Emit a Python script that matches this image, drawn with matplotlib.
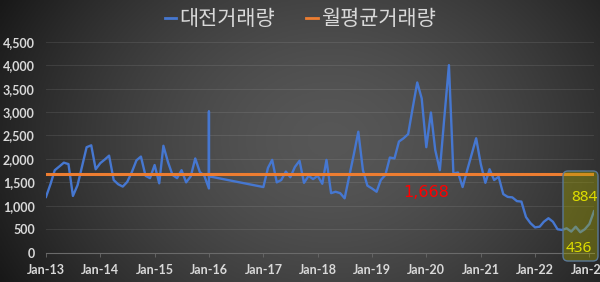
import numpy as np
import pandas as pd
import matplotlib
matplotlib.use('Agg')
import matplotlib.pyplot as plt
import matplotlib.dates as mdates
from matplotlib.lines import Line2D
from matplotlib.patches import FancyBboxPatch
from matplotlib.transforms import IdentityTransform

plt.rcParams['font.family'] = ['Noto Sans CJK KR', 'DejaVu Sans']

# ---- data ----
dates_2013_2015 = pd.date_range('2013-01-01', '2015-12-01', freq='MS')
dates_2016 = pd.to_datetime(['2016-01-01', '2016-01-01', '2016-01-01'])
dates_2017_2023 = pd.date_range('2017-01-01', '2023-02-01', freq='MS')
dates = dates_2013_2015.append(dates_2016).append(dates_2017_2023)

vol_2013 = [1190, 1470, 1760, 1840, 1920, 1890, 1210, 1440, 1850, 2250, 2290, 1780]
vol_2014 = [1910, 1990, 2070, 1550, 1460, 1410, 1510, 1720, 1970, 2050, 1640, 1590]
vol_2015 = [1870, 1480, 2280, 1930, 1660, 1590, 1760, 1500, 1630, 2010, 1720, 1640]
vol_2016 = [1370, 3010, 1630]
vol_2017 = [1400, 1810, 1980, 1500, 1550, 1730, 1610, 1830, 1960, 1490, 1640, 1570]
vol_2018 = [1640, 1470, 1980, 1270, 1300, 1270, 1160, 1630, 2100, 2580, 1760, 1430]
vol_2019 = [1370, 1300, 1550, 1660, 2030, 2010, 2370, 2440, 2530, 3080, 3630, 3290]
vol_2020 = [2250, 2990, 2190, 1760, 2880, 4000, 1690, 1710, 1400, 1750, 2100, 2440]
vol_2021 = [1890, 1490, 1780, 1550, 1620, 1250, 1190, 1180, 1100, 1090, 760, 630]
vol_2022 = [540, 555, 660, 735, 660, 500, 485, 520, 450, 555, 436, 500]
vol_2023 = [612, 884]
volume = (vol_2013 + vol_2014 + vol_2015 + vol_2016 + vol_2017 + vol_2018 +
          vol_2019 + vol_2020 + vol_2021 + vol_2022 + vol_2023)
avg_volume = 1668
avg_series = [avg_volume] * len(volume)
series_names = ['대전거래량', '월평균거래량']
last_value = 884
min_value = 436

# ---- figure ----
W, H = 600, 282
fig = plt.figure(figsize=(W / 100, H / 100), dpi=100)

# background gradient
bg = fig.add_axes([0, 0, 1, 1], zorder=-10)
xx, yy = np.meshgrid(np.linspace(0, W, 300), np.linspace(0, H, 150))
u = (xx - 330) / 330
v = (yy - 140) / 260
r = np.sqrt(u ** 2 + v ** 2)
val = 0.34 - 0.2 * np.clip(r, 0, 1.3) ** 1.6
bg.imshow(np.dstack([val, val, val]), extent=[0, 1, 0, 1], aspect='auto', origin='upper')
bg.axis('off')

ax = fig.add_axes([46 / W, (H - 252.7) / H, 548 / W, 211 / H])
ax.set_facecolor('none')

ax.plot(dates, volume, color='#4677d0', lw=1.7, zorder=3, solid_joinstyle='round')
ax.plot(dates, avg_series, color='#ed7d31', lw=2.2, zorder=4)

ax.set_xlim(dates[0], dates[-1])
ax.set_ylim(0, 4500)
ax.set_yticks(np.arange(0, 4501, 500))
ax.yaxis.set_major_formatter(matplotlib.ticker.FuncFormatter(lambda x, p: f'{int(x):,}'))
ax.xaxis.set_major_locator(mdates.YearLocator(1, month=1, day=1))
ax.xaxis.set_major_formatter(mdates.DateFormatter('%b-%y'))

for s in ['top', 'right', 'left']:
    ax.spines[s].set_visible(False)
ax.spines['bottom'].set_color('#6a6a6a')
ax.spines['bottom'].set_linewidth(0.8)
ax.grid(axis='y', color='#ffffff', alpha=0.09, lw=0.8)
ax.set_axisbelow(True)

ax.tick_params(axis='y', length=0, pad=8, colors='#d9d9d9')
ax.tick_params(axis='x', length=3, width=0.6, color='#6a6a6a', pad=5, labelcolor='#d9d9d9')
for lab in ax.get_xticklabels() + ax.get_yticklabels():
    lab.set_fontfamily('Lato')
    lab.set_fontweight('bold')
    lab.set_fontsize(9)
    lab.set_clip_on(False)

# legend
handles = [Line2D([], [], color='#4677d0', lw=2), Line2D([], [], color='#ed7d31', lw=2)]
leg = fig.legend(handles, series_names, loc='center', bbox_to_anchor=(0.5, 1 - 19 / H),
                 ncol=2, frameon=False, handlelength=0.55, handletextpad=0.15,
                 columnspacing=1.5, prop={'family': 'Noto Sans CJK KR', 'size': 15})
for t in leg.get_texts():
    t.set_color('#d9d9d9')

# average label
ax.text(pd.Timestamp('2020-01-01'), 1290, f'{avg_volume:,}', color='#ff0000',
        fontsize=11.5, ha='center', va='center', family='DejaVu Sans', zorder=6)

# highlight box
box = FancyBboxPatch((563, H - 261), 35, 90, boxstyle='round,pad=0,rounding_size=5',
                     transform=IdentityTransform(), facecolor='#a8a800', alpha=0.38,
                     edgecolor='none', zorder=5)
fig.add_artist(box)
box_edge = FancyBboxPatch((563, H - 261), 35, 90, boxstyle='round,pad=0,rounding_size=5',
                          transform=IdentityTransform(), facecolor='none',
                          edgecolor='#5a7896', lw=1, zorder=5)
fig.add_artist(box_edge)

ax.text(pd.Timestamp('2022-11-25'), 1167, f'{last_value}', color='#ffff00', fontsize=11,
        ha='center', va='center', family='Noto Sans', zorder=7, clip_on=False)
ax.text(pd.Timestamp('2022-10-25'), 100, f'{min_value}', color='#ffff00', fontsize=11,
        ha='center', va='center', family='Noto Sans', zorder=7, clip_on=False)

fig.savefig('out.png', dpi=100)
